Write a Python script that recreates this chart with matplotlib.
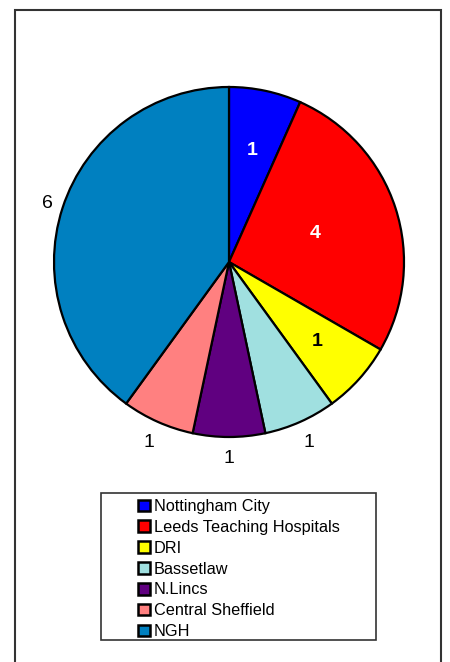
import matplotlib.pyplot as plt
import matplotlib.patches as mpatches
import numpy as np

plt.rcParams['font.family'] = ['Liberation Sans', 'DejaVu Sans']

# data
trusts = ['Nottingham City', 'Leeds Teaching Hospitals', 'DRI', 'Bassetlaw',
          'N.Lincs', 'Central Sheffield', 'NGH']
counts = [1, 4, 1, 1, 1, 1, 6]
colours = ['#0000FF', '#FF0000', '#FFFF00', '#A0E0E0', '#600080', '#FF8080', '#0080C0']

# label style per slice: distance from centre, colour, weight
label_dist = [0.65, 0.52, 0.68, 1.13, 1.12, 1.13, 1.09]
label_col = ['white', 'white', 'black', 'black', 'black', 'black', 'black']
label_wt = ['bold', 'bold', 'bold', 'normal', 'normal', 'normal', 'normal']

W, H = 450, 662
fig = plt.figure(figsize=(W / 100, H / 100), dpi=100)

# outer frame
fig.patches.append(mpatches.Rectangle((14.5 / W, -0.01), (441 - 14.5) / W, 1 - 10 / H + 0.01,
                                      transform=fig.transFigure, fill=False,
                                      edgecolor='#333333', linewidth=1.5))

r_px = 175
lim = 1.2
cx, cy = 229, 262
size = 2 * lim * r_px
ax = fig.add_axes([(cx - size / 2) / W, (H - cy - size / 2) / H, size / W, size / H])

wedges, texts = ax.pie(counts, colors=colours, startangle=90, counterclock=False,
                       labels=[str(c) for c in counts], labeldistance=1.1,
                       wedgeprops=dict(edgecolor='black', linewidth=1.6))
for w, t, d, c, wt in zip(wedges, texts, label_dist, label_col, label_wt):
    ang = np.deg2rad((w.theta1 + w.theta2) / 2)
    t.set_position((d * np.cos(ang), d * np.sin(ang)))
    t.set_ha('center')
    t.set_va('center')
    t.set_color(c)
    t.set_fontweight(wt)
    t.set_fontsize(14)
ax.set_xlim(-lim, lim)
ax.set_ylim(-lim, lim)
ax.set_aspect('equal')
ax.axis('off')

# legend box
fig.patches.append(mpatches.Rectangle((101 / W, 1 - 640 / H), 275 / W, 147 / H,
                                      transform=fig.transFigure, fill=False,
                                      edgecolor='#333333', linewidth=1.2))
leg = fig.legend(wedges, trusts, loc='upper left', bbox_to_anchor=(138 / W, 1 - 499 / H),
                 frameon=False, fontsize=11.7, handlelength=0.72, handleheight=0.72,
                 handletextpad=0.25, labelspacing=0.36, borderpad=0, borderaxespad=0)
for h in leg.legend_handles:
    h.set_linewidth(1.8)

fig.savefig('out.png', dpi=100)
